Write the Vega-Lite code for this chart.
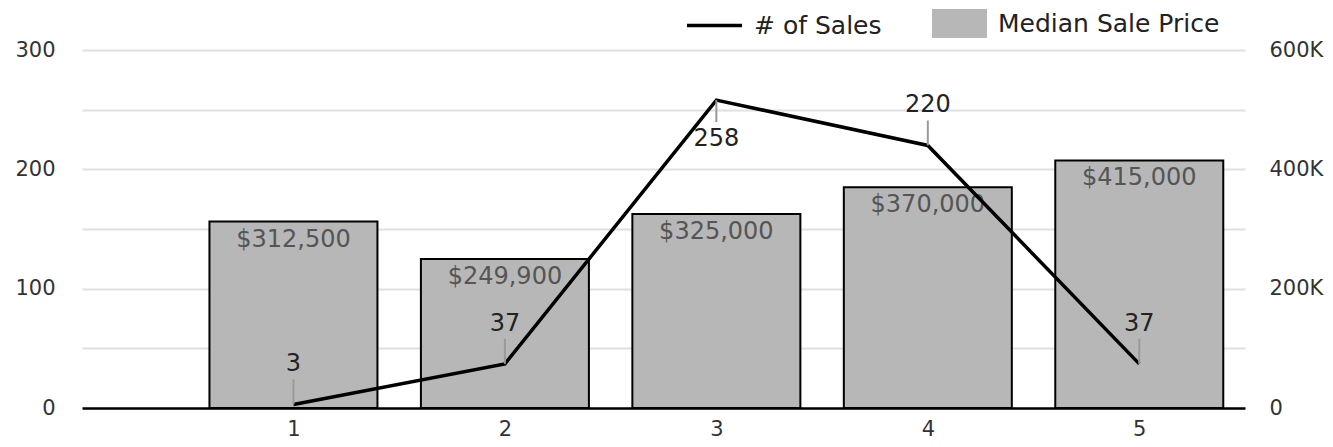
{
  "$schema": "https://vega.github.io/schema/vega-lite/v6.json",
  "width": 1163,
  "height": 358,
  "autosize": {"type": "none"},
  "padding": {"left": 82, "top": 50, "right": 88, "bottom": 39},
  "background": "white",
  "config": {
    "font": "DejaVu Sans",
    "view": {"stroke": null},
    "axis": {"labelFont": "DejaVu Sans", "labelColor": "#333333", "labelFontSize": 21, "ticks": false, "domain": false, "title": null}
  },
  "data": {
    "values": [
      {"bin": 1, "sales": 3, "price": 312500, "priceLabel": "$312,500", "pos": "above", "s": "# of Sales", "p": "Median Sale Price"},
      {"bin": 2, "sales": 37, "price": 249900, "priceLabel": "$249,900", "pos": "above", "s": "# of Sales", "p": "Median Sale Price"},
      {"bin": 3, "sales": 258, "price": 325000, "priceLabel": "$325,000", "pos": "below", "s": "# of Sales", "p": "Median Sale Price"},
      {"bin": 4, "sales": 220, "price": 370000, "priceLabel": "$370,000", "pos": "above", "s": "# of Sales", "p": "Median Sale Price"},
      {"bin": 5, "sales": 37, "price": 415000, "priceLabel": "$415,000", "pos": "above", "s": "# of Sales", "p": "Median Sale Price"}
    ]
  },
  "encoding": {
    "x": {
      "field": "bin", "type": "quantitative",
      "scale": {"domain": [0, 5.5], "nice": false, "zero": false, "padding": 0},
      "axis": {"values": [1, 2, 3, 4, 5], "format": "d", "grid": false, "domain": true, "domainColor": "#000000", "domainWidth": 2.5, "labelPadding": 10}
    }
  },
  "layer": [
    {
      "encoding": {
        "y": {
          "field": "price", "type": "quantitative",
          "scale": {"domain": [0, 600000], "nice": false},
          "axis": {"orient": "right", "values": [0, 200000, 400000, 600000], "grid": false, "labelPadding": 24, "labelExpr": "datum.value == 0 ? '0' : (datum.value / 1000) + 'K'"}
        }
      },
      "layer": [
        {
          "mark": {"type": "bar", "size": 168, "stroke": "#000000", "strokeWidth": 2},
          "encoding": {
            "fill": {
              "field": "p", "type": "nominal",
              "scale": {"domain": ["Median Sale Price"], "range": ["#b7b7b7"]},
              "legend": {"title": null, "orient": "none", "legendX": 850, "legendY": -54, "symbolType": "M-1,-0.53H1V0.53H-1Z", "symbolSize": 3025, "symbolStrokeWidth": 0, "labelFontSize": 25, "labelColor": "#222222", "labelOffset": 11, "labelLimit": 400, "labelFont": "DejaVu Sans"}
            }
          }
        },
        {
          "mark": {"type": "text", "baseline": "middle", "dy": 18, "fontSize": 24, "color": "#555555"},
          "encoding": {"text": {"field": "priceLabel"}}
        }
      ]
    },
    {
      "encoding": {
        "y": {
          "field": "sales", "type": "quantitative",
          "scale": {"domain": [0, 300], "nice": false},
          "axis": {"orient": "left", "values": [0, 50, 100, 150, 200, 250, 300], "grid": true, "gridColor": "#e0e0e0", "gridWidth": 2, "labelPadding": 27, "labelExpr": "datum.value % 100 == 0 ? datum.label : ''"}
        }
      },
      "layer": [
        {
          "mark": {"type": "line", "strokeWidth": 3.5},
          "encoding": {
            "stroke": {
              "field": "s", "type": "nominal",
              "scale": {"domain": ["# of Sales"], "range": ["#000000"]},
              "legend": {"title": null, "orient": "none", "legendX": 603, "legendY": -54, "symbolType": "stroke", "symbolSize": 3025, "symbolStrokeWidth": 3.5, "labelFontSize": 25, "labelColor": "#222222", "labelOffset": 10, "labelLimit": 400, "labelFont": "DejaVu Sans"}
            }
          }
        },
        {
          "transform": [{"filter": "datum.pos == 'above'"}],
          "mark": {"type": "rule", "color": "#999999", "strokeWidth": 2, "y2Offset": -25},
          "encoding": {"y2": {"field": "sales"}}
        },
        {
          "transform": [{"filter": "datum.pos == 'below'"}],
          "mark": {"type": "rule", "color": "#999999", "strokeWidth": 2, "y2Offset": 22},
          "encoding": {"y2": {"field": "sales"}}
        },
        {
          "transform": [{"filter": "datum.pos == 'above'"}],
          "mark": {"type": "text", "baseline": "middle", "dy": -40, "fontSize": 24, "color": "#222222"},
          "encoding": {"text": {"field": "sales"}}
        },
        {
          "transform": [{"filter": "datum.pos == 'below'"}],
          "mark": {"type": "text", "baseline": "middle", "dy": 39, "fontSize": 24, "color": "#222222"},
          "encoding": {"text": {"field": "sales"}}
        }
      ]
    }
  ],
  "resolve": {"scale": {"y": "independent"}}
}
